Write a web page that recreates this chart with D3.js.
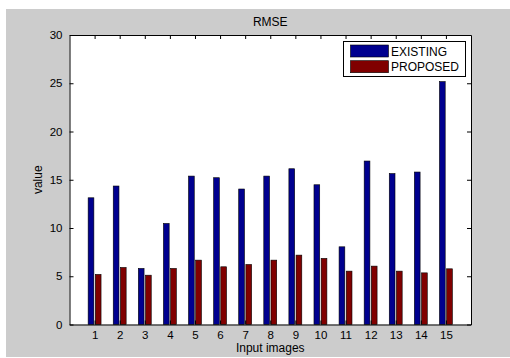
<!DOCTYPE html>
<html>
<head>
<meta charset="utf-8">
<script src="https://cdn.jsdelivr.net/npm/d3@7"></script>
<style>
html, body { margin: 0; padding: 0; background: #ffffff; }
svg { display: block; }
text { font-family: "Liberation Sans", Arial, sans-serif; fill: #000; }
</style>
</head>
<body>
<svg id="chart" width="510" height="358"></svg>
<script>
const categories = [1, 2, 3, 4, 5, 6, 7, 8, 9, 10, 11, 12, 13, 14, 15];
const existing = [13.13, 14.35, 5.81, 10.47, 15.38, 15.21, 14.04, 15.38, 16.14, 14.48, 8.05, 16.94, 15.64, 15.8, 25.17];
const proposed = [5.19, 5.91, 5.11, 5.81, 6.67, 5.98, 6.22, 6.67, 7.19, 6.85, 5.53, 6.05, 5.53, 5.35, 5.77];
const yTicks = [0, 5, 10, 15, 20, 25, 30];
const seriesNames = ["EXISTING", "PROPOSED"];
const seriesColors = ["#00008f", "#800000"];

const svg = d3.select("#chart");
const W = 510, H = 358;
const L = 69.5, R = 471, T = 35, B = 324.5;

// figure background
svg.append("rect").attr("x", 6).attr("y", 9).attr("width", W - 6).attr("height", 348).attr("fill", "#cccccc");

const x = d3.scaleLinear().domain([0, 16]).range([L, R]);
const y = d3.scaleLinear().domain([0, 30]).range([B, T]);

// plot area
svg.append("rect").attr("x", L).attr("y", T).attr("width", R - L).attr("height", B - T).attr("fill", "#ffffff");

// bars
const groupW = 0.5714;
const step = groupW / 2;
const barW = step * 0.8;
const series = [existing, proposed];
series.forEach((vals, si) => {
  const off = (si - 0.5) * step;
  svg.append("g").selectAll("rect").data(categories.map((c, i) => ({ c, v: vals[i] })))
    .enter().append("rect")
    .attr("x", d => x(d.c + off - barW / 2))
    .attr("width", d => x(d.c + off + barW / 2) - x(d.c + off - barW / 2))
    .attr("y", d => y(d.v))
    .attr("height", d => y(0) - y(d.v))
    .attr("fill", seriesColors[si])
    .attr("stroke", "#000")
    .attr("stroke-width", 0.6);
});

// axes
const tickLen = 4;
const axB = svg.append("g").attr("transform", `translate(0,${B})`)
  .call(d3.axisBottom(x).tickValues(categories).tickSizeInner(-tickLen).tickSizeOuter(0).tickPadding(6));
const axT = svg.append("g").attr("transform", `translate(0,${T})`)
  .call(d3.axisTop(x).tickValues(categories).tickSizeInner(-tickLen).tickSizeOuter(0).tickFormat(""));
const axL = svg.append("g").attr("transform", `translate(${L},0)`)
  .call(d3.axisLeft(y).tickValues(yTicks).tickSizeInner(-tickLen).tickSizeOuter(0).tickPadding(7));
const axR = svg.append("g").attr("transform", `translate(${R},0)`)
  .call(d3.axisRight(y).tickValues(yTicks).tickSizeInner(-tickLen).tickSizeOuter(0).tickFormat(""));
[axB, axT, axL, axR].forEach(a => {
  a.select(".domain").attr("stroke", "#000").attr("stroke-width", 1);
  a.selectAll(".tick line").attr("stroke", "#000").attr("stroke-width", 1);
  a.selectAll("text").style("font-family", '"Liberation Sans", Arial, sans-serif').style("font-size", "11.5px").attr("fill", "#111");
});

// title and labels
svg.append("text").attr("x", (L + R) / 2).attr("y", 26).attr("text-anchor", "middle").style("font-size", "12px").text("RMSE");
svg.append("text").attr("x", (L + R) / 2).attr("y", 352).attr("text-anchor", "middle").style("font-size", "12px").text("Input images");
svg.append("text").attr("transform", `translate(42,${(T + B) / 2}) rotate(-90)`).attr("text-anchor", "middle").style("font-size", "12px").text("value");

// legend
const lg = svg.append("g");
lg.append("rect").attr("x", 343.5).attr("y", 41.5).attr("width", 122).attr("height", 35).attr("fill", "#fff").attr("stroke", "#000").attr("stroke-width", 1);
seriesNames.forEach((n, i) => {
  lg.append("rect").attr("x", 350.5).attr("y", 45 + i * 15.7).attr("width", 38).attr("height", 12)
    .attr("fill", seriesColors[i]).attr("stroke", "#000").attr("stroke-width", 0.6);
  lg.append("text").attr("x", 391).attr("y", 55.5 + i * 15.7).style("font-size", "12px").text(n);
});
</script>
</body>
</html>
